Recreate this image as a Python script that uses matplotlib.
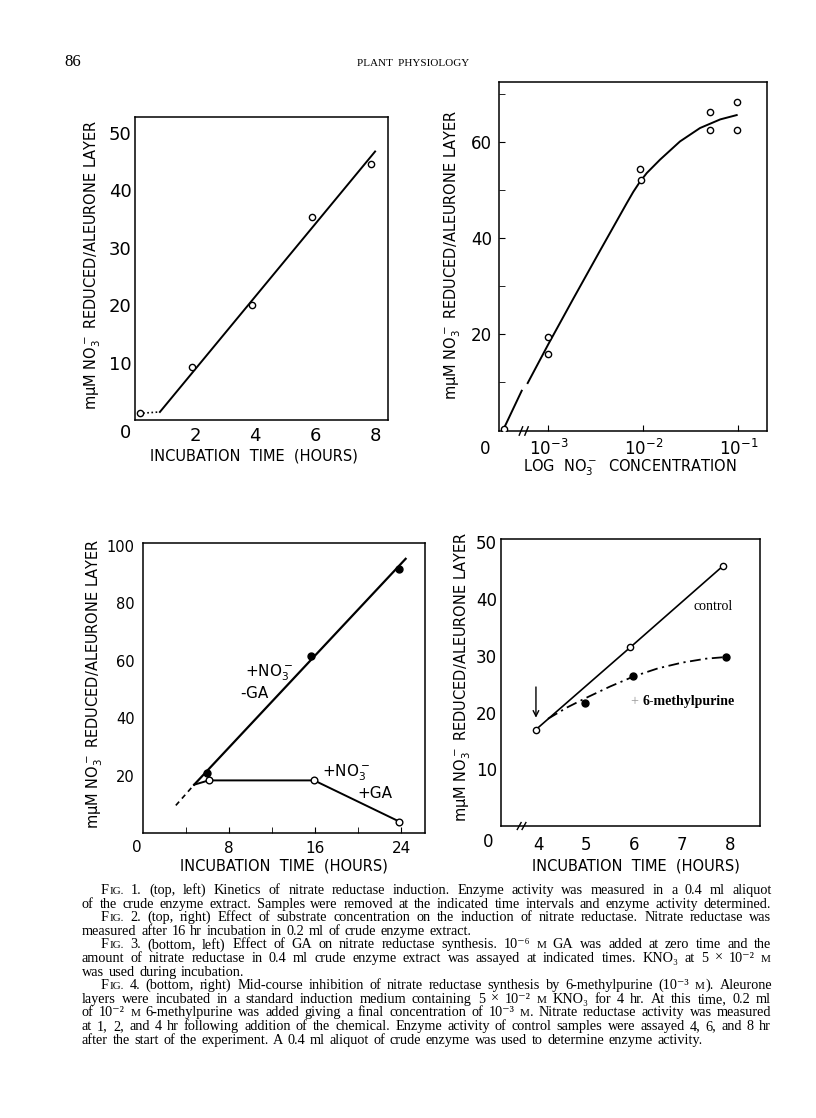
import re
import numpy as np
import matplotlib
matplotlib.use('Agg')
import matplotlib.pyplot as plt
from matplotlib.ticker import FixedLocator, NullLocator, LogFormatterSciNotation

# ---------------------------------------------------------------- data
# Fig. 1  kinetics of induction
F1_TIME = [0.17, 1.9, 3.9, 5.9, 7.85]
F1_ACT = [1.2, 9.2, 20.0, 35.3, 44.5]
F1_FIT_TIME = [0.83, 8.0]
F1_FIT_ACT = [1.4, 46.7]
F1_LAG_TIME = [0.27, 0.83]
F1_LAG_ACT = [1.2, 1.4]

# Fig. 2  substrate concentration (M); 0 = no nitrate
F2_CONC = [0, 1e-3, 1e-3, 9.2e-3, 9.4e-3, 5.0e-2, 5.0e-2, 9.7e-2, 9.7e-2]
F2_ACT = [0.3, 19.5, 15.9, 54.5, 52.2, 66.3, 62.5, 68.4, 62.5]
F2_LOW_CONC = [0, 5.25e-4]
F2_LOW_ACT = [0.3, 8.2]
F2_CURVE_LOGC = [-3.217, -3.0, -2.737, -2.456, -2.175, -2.105, -2.035,
                 -1.964, -1.824, -1.614, -1.403, -1.19, -1.017]
F2_CURVE_ACT = [9.8, 17.9, 27.4, 37.4, 47.3, 49.7, 51.8,
                53.6, 56.4, 60.2, 63.0, 64.8, 65.7]

# Fig. 3  effect of GA
F3_T_NOGA = [5.9, 15.6, 23.8]
F3_A_NOGA = [20.9, 61.7, 92.0]
F3_T_GA = [6.1, 15.9, 23.8]
F3_A_GA = [18.3, 18.3, 4.0]
F3_FIT_T_NOGA = [4.75, 24.4]
F3_FIT_A_NOGA = [16.8, 95.4]
F3_FIT_T_GA = [4.75, 6.1, 15.9, 23.8]
F3_FIT_A_GA = [16.8, 18.3, 18.3, 4.0]
F3_EXTRAP_T = [3.05, 4.75]
F3_EXTRAP_A = [9.6, 16.8]

# Fig. 4  6-methylpurine
F4_T_CTRL = [3.95, 5.92, 7.85]
F4_A_CTRL = [17.0, 31.5, 45.8]
F4_T_MP = [4.97, 5.97, 7.93]
F4_A_MP = [21.6, 26.5, 29.8]
F4_CURVE_T = [4.2, 4.6, 5.0, 5.5, 6.0, 6.5, 7.0, 7.5, 7.93]
F4_CURVE_A = [18.9, 20.9, 22.6, 24.6, 26.4, 27.8, 28.8, 29.5, 29.8]
F4_ADD_T = 3.95   # time of 6-methylpurine addition

YLAB = 'mμM ' + r'$\mathregular{NO_3^-}$' + ' REDUCED/ALEURONE LAYER'
XLAB_TIME = 'INCUBATION  TIME  (HOURS)'
XLAB_CONC = 'LOG  ' + r'$\mathregular{NO_3^-}$' + '  CONCENTRATION'

CAPTION = [
    (True, True, "F|IG.| 1. (top, left) Kinetics of nitrate reductase induction. Enzyme activity was measured in a 0.4 ml aliquot"),
    (False, True, "of the crude enzyme extract. Samples were removed at the indicated time intervals and enzyme activity determined."),
    (True, True, "F|IG.| 2. (top, right) Effect of substrate concentration on the induction of nitrate reductase. Nitrate reductase was"),
    (False, False, "measured after 16 hr incubation in 0.2 ml of crude enzyme extract."),
    (True, True, "F|IG.| 3. (bottom, left) Effect of GA on nitrate reductase synthesis. 10^{-6} |M| GA was added at zero time and the"),
    (False, True, "amount of nitrate reductase in 0.4 ml crude enzyme extract was assayed at indicated times. KNO_3 at 5 × 10^{-2} |M"),
    (False, False, "was used during incubation."),
    (True, True, "F|IG.| 4. (bottom, right) Mid-course inhibition of nitrate reductase synthesis by 6-methylpurine (10^{-3} |M|). Aleurone"),
    (False, True, "layers were incubated in a standard induction medium containing 5 × 10^{-2} |M| KNO_3 for 4 hr. At this time, 0.2 ml"),
    (False, True, "of 10^{-2} |M| 6-methylpurine was added giving a final concentration of 10^{-3} |M|. Nitrate reductase activity was measured"),
    (False, True, "at 1, 2, and 4 hr following addition of the chemical. Enzyme activity of control samples were assayed 4, 6, and 8 hr"),
    (False, False, "after the start of the experiment. A 0.4 ml aliquot of crude enzyme was used to determine enzyme activity."),
]

# ---------------------------------------------------------------- figure
W, H = 816, 1118
SANS = 'DejaVu Sans'
SERIF = ['Liberation Serif', 'DejaVu Serif']
fig = plt.figure(figsize=(W / 100, H / 100), dpi=100)
fig.patch.set_facecolor('white')


def axes_px(l, t, r, b):
    a = fig.add_axes([l / W, 1 - b / H, (r - l) / W, (b - t) / H])
    for s in a.spines.values():
        s.set_linewidth(1.1)
    return a


def ftext(x, y, s, **kw):
    kw.setdefault('family', SANS)
    return fig.text(x / W, 1 - y / H, s, **kw)


def open_pts(ax, x, y, ms=4.5):
    ax.plot(x, y, 'o', ms=ms, mfc='white', mec='black', mew=1.0, zorder=5)


def break_marks(ax, xs, dx, log=False):
    tr = ax.get_xaxis_transform()
    for x in xs:
        if log:
            x0, x1 = x / 10 ** dx, x * 10 ** dx
        else:
            x0, x1 = x - dx, x + dx
        ax.plot([x0, x1], [-0.012, 0.012], color='black', lw=1.0,
                transform=tr, clip_on=False)


# ---- Fig. 1 (top left)
ax1 = axes_px(135, 117, 388, 420)
ax1.set_xlim(0, 8.43)
ax1.set_ylim(0, 52.7)
ax1.plot(F1_FIT_TIME, F1_FIT_ACT, color='black', lw=1.4)
ax1.plot(F1_LAG_TIME, F1_LAG_ACT, color='black', lw=1.2, ls=(0, (1, 1.5)))
open_pts(ax1, F1_TIME, F1_ACT)
ax1.set_xticks([2, 4, 6, 8])
ax1.set_yticks([10, 20, 30, 40, 50])
ax1.tick_params(length=0, labelsize=13)
ax1.tick_params(axis='y', pad=2.5)
ax1.tick_params(axis='x', pad=5)
ftext(125, 433, '0', fontsize=13, ha='center', va='center')
ftext(93, 265, YLAB, fontsize=10.5, rotation=90, ha='center', va='center')
ftext(254, 456, XLAB_TIME, fontsize=10.5, ha='center', va='center')

# ---- Fig. 2 (top right)
ZERO_POS = 3.4e-4   # where the no-nitrate control sits left of the axis break
ax2 = axes_px(499, 82, 767, 431)
ax2.set_xscale('log')
ax2.set_xlim(10 ** -3.519, 10 ** -0.698)
ax2.set_ylim(-0.2, 72.6)
conc = np.array(F2_CONC, dtype=float)
conc = np.where(conc == 0, ZERO_POS, conc)
low = np.array(F2_LOW_CONC, dtype=float)
low = np.where(low == 0, ZERO_POS, low)
ax2.plot(low, F2_LOW_ACT, color='black', lw=1.4)
ax2.plot(10 ** np.array(F2_CURVE_LOGC), F2_CURVE_ACT, color='black', lw=1.4)
open_pts(ax2, conc, F2_ACT)
ax2.xaxis.set_major_locator(FixedLocator([1e-3, 1e-2, 1e-1]))
ax2.xaxis.set_major_formatter(LogFormatterSciNotation())
ax2.xaxis.set_minor_locator(NullLocator())
ax2.set_yticks([20, 40, 60])
ax2.yaxis.set_minor_locator(FixedLocator([10, 30, 50, 70]))
ax2.tick_params(which='both', direction='in', labelsize=12)
ax2.tick_params(axis='y', which='both', length=4, pad=5)
ax2.tick_params(axis='x', length=4, pad=6)
break_marks(ax2, [5.15e-4, 5.9e-4], 0.018, log=True)
ftext(485, 449, '0', fontsize=12, ha='center', va='center')
ftext(453, 255, YLAB, fontsize=10.5, rotation=90, ha='center', va='center')
ftext(630, 468, XLAB_CONC, fontsize=10.5, ha='center', va='center')

# ---- Fig. 3 (bottom left)
ax3 = axes_px(143, 543, 425, 833)
ax3.set_xlim(0, 26.2)
ax3.set_ylim(0, 100.9)
ax3.plot(F3_FIT_T_NOGA, F3_FIT_A_NOGA, color='black', lw=1.6)
ax3.plot(F3_FIT_T_GA, F3_FIT_A_GA, color='black', lw=1.4)
ax3.plot(F3_EXTRAP_T, F3_EXTRAP_A, color='black', lw=1.2, ls=(0, (3, 2.5)))
ax3.plot(F3_T_NOGA, F3_A_NOGA, 'o', ms=5, color='black', zorder=5)
open_pts(ax3, F3_T_GA, F3_A_GA, ms=4.8)
ax3.set_xticks([8, 16, 24])
ax3.xaxis.set_minor_locator(FixedLocator([4, 12, 20]))
ax3.set_yticks([20, 40, 60, 80, 100])
ax3.tick_params(axis='x', which='both', direction='in', length=4, pad=6, labelsize=11)
ax3.tick_params(axis='y', length=0, pad=6, labelsize=10.5)
ax3.text(9.5, 55.7, r'+$\mathregular{NO_3^-}$', fontsize=11, va='center', family=SANS)
ax3.text(9.0, 48.7, '-GA', fontsize=11, va='center', family=SANS)
ax3.text(16.6, 20.9, r'+$\mathregular{NO_3^-}$', fontsize=11, va='center', family=SANS)
ax3.text(19.9, 13.9, '+GA', fontsize=11, va='center', family=SANS)
ftext(137, 848, '0', fontsize=11, ha='center', va='center')
ftext(95, 684, YLAB, fontsize=10.5, rotation=90, ha='center', va='center')
ftext(284, 866, XLAB_TIME, fontsize=10.5, ha='center', va='center')

# ---- Fig. 4 (bottom right)
ax4 = axes_px(501, 539, 760, 826)
ax4.set_xlim(3.22, 8.63)
ax4.set_ylim(0, 50.6)
ax4.plot(F4_T_CTRL, F4_A_CTRL, color='black', lw=1.2)
ax4.plot(F4_CURVE_T, F4_CURVE_A, color='black', lw=1.3, ls=(0, (6, 2.5, 1.2, 2.5)))
open_pts(ax4, F4_T_CTRL, F4_A_CTRL)
ax4.plot(F4_T_MP, F4_A_MP, 'o', ms=5, color='black', zorder=5)
ax4.annotate('', xy=(F4_ADD_T, F4_A_CTRL[0] + 1.6), xytext=(F4_ADD_T, F4_A_CTRL[0] + 8),
             arrowprops=dict(arrowstyle='->', lw=1.0, color='black', mutation_scale=10))
ax4.set_xticks([4, 5, 6, 7, 8])
ax4.set_yticks([10, 20, 30, 40, 50])
ax4.tick_params(length=0, labelsize=12)
ax4.tick_params(axis='y', pad=3)
ax4.tick_params(axis='x', pad=7)
break_marks(ax4, [3.6, 3.7], 0.04)
ax4.text(7.24, 38.7, 'control', fontsize=10, family=SERIF, va='center')
ax4.text(5.92, 21.9, '+', fontsize=10, family=SERIF, va='center', color='0.6')
ax4.text(6.17, 21.9, '6-methylpurine', fontsize=10, family=SERIF,
         fontweight='bold', va='center')
ftext(488, 842, '0', fontsize=12, ha='center', va='center')
ftext(463, 677, YLAB, fontsize=10.5, rotation=90, ha='center', va='center')
ftext(636, 866, XLAB_TIME, fontsize=10.5, ha='center', va='center')

# ---------------------------------------------------------------- header
ftext(64, 62, '86', fontsize=12, family=SERIF, ha='left', va='center')
ftext(413, 64, 'PLANT  PHYSIOLOGY', fontsize=8, family=SERIF, ha='center', va='center')

# ---------------------------------------------------------------- caption
CAP_FS = 10.3
CAP_LEFT, CAP_RIGHT, CAP_INDENT = 82, 771, 101
SUP = str.maketrans('-0123456789', '⁻⁰¹²³⁴⁵⁶⁷⁸⁹')
SUB = str.maketrans('0123456789', '₀₁₂₃₄₅₆₇₈₉')
renderer = fig.canvas.get_renderer()


def scripts(p):
    p = re.sub(r'\^\{([^}]*)\}', lambda m: m.group(1).translate(SUP), p)
    return re.sub(r'_(\d)', lambda m: m.group(1).translate(SUB), p)


def caption_line(y, text, indent, justify):
    x0 = CAP_INDENT if indent else CAP_LEFT
    words = []
    for tok in text.split():
        runs = []
        for k, p in enumerate(tok.split('|')):
            if not p:
                continue
            t = ftext(0, y, scripts(p), family=SERIF, va='baseline',
                      fontsize=CAP_FS * (0.78 if k % 2 else 1.0))
            runs.append((t, t.get_window_extent(renderer).width))
        words.append(runs)
    widths = [sum(w for _, w in r) for r in words]
    gap = (CAP_RIGHT - x0 - sum(widths)) / (len(words) - 1) if justify else 4.5
    x = x0
    for runs in words:
        for t, w in runs:
            t.set_x(x / W)
            x += w + 0.5
        x += gap - 0.5


for i, (indent, justify, line) in enumerate(CAPTION):
    caption_line(894 + 13.6 * i, line, indent, justify)

fig.savefig('out.png', dpi=100, facecolor='white')
